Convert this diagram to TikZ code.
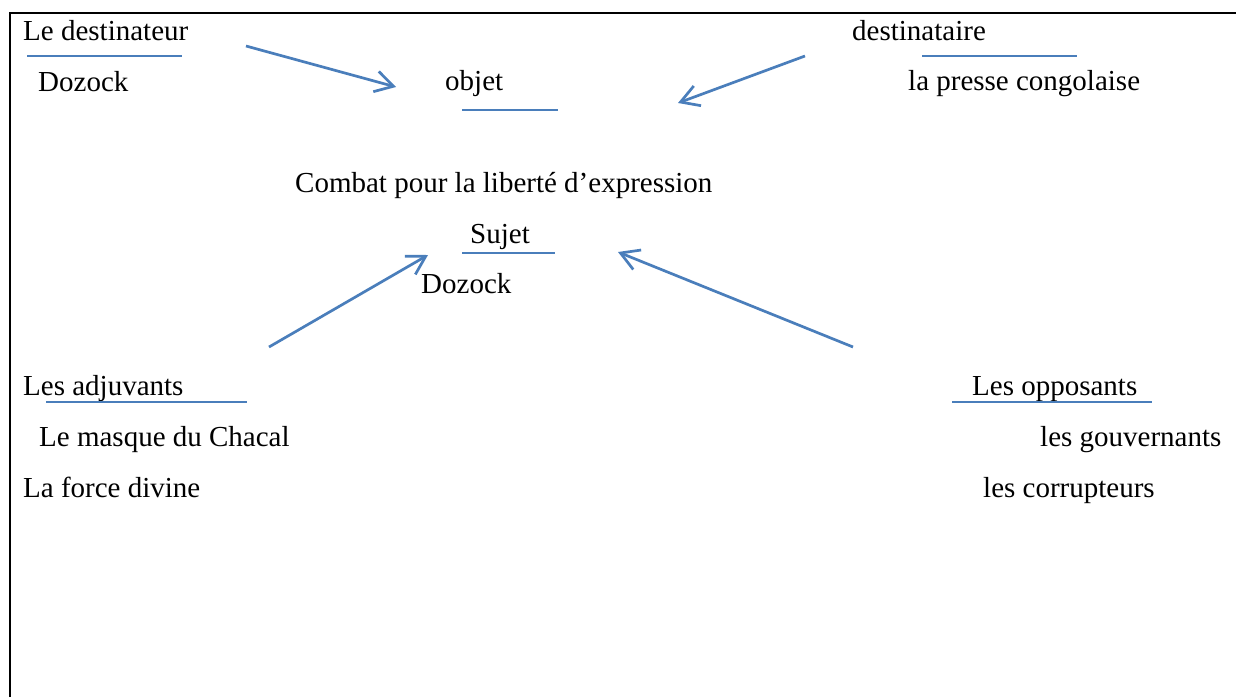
\documentclass[tikz,border=0pt]{standalone}
\usepackage{fontspec}
\setmainfont{Liberation Serif}
\usetikzlibrary{arrows.meta}
\definecolor{wordblue}{RGB}{74,126,187}
\tikzset{
	lbl/.style={anchor=base west,inner sep=0pt,font=\fontsize{29}{34}\selectfont},
	uline/.style={draw=wordblue,line width=2pt},
	fleche/.style={draw=wordblue,line width=2.7pt,-{Straight Barb[length=18pt,width=21pt]}}
}
\begin{document}
\begin{tikzpicture}[x=1pt,y=-1pt]
	\useasboundingbox (0,0) rectangle (1236,697);
	\draw[line width=2.5pt] (10,697) -- (10,13) -- (1236,13);
	% textes
	\node[lbl] (dest) at (23,40){Le destinateur};
	\node[lbl] (destdoz) at (38,91){Dozock};
	\node[lbl] (obj) at (445,90){objet};
	\node[lbl] (destre) at (852,40){destinataire};
	\node[lbl] (presse) at (908,90){la presse congolaise};
	\node[lbl] (combat) at (295,192){Combat pour la liberté d’expression};
	\node[lbl] (suj) at (470,243){Sujet};
	\node[lbl] (sujdoz) at (421,293){Dozock};
	\node[lbl] (adj) at (23,395){Les adjuvants};
	\node[lbl] (masque) at (39,446){Le masque du Chacal};
	\node[lbl] (force) at (23,497){La force divine};
	\node[lbl] (opp) at (972,395){Les opposants};
	\node[lbl] (gouv) at (1040,446){les gouvernants};
	\node[lbl] (corr) at (983,497){les corrupteurs};
	% soulignements
	\foreach\n/\a/\b/\y in {1/27/182/56,2/462/558/110,3/922/1077/56,4/462/555/253,5/46/247/402,6/952/1152/402}{
		\coordinate (s\n a) at (\a,\y);
		\coordinate (s\n b) at (\b,\y);
		\draw[uline] (s\n a) -- (s\n b);
	}
	% fleches
	\coordinate (f1a) at (246,46);
	\coordinate (f1b) at (396,87);
	\coordinate (f2a) at (805,56);
	\coordinate (f2b) at (678,103);
	\coordinate (f3a) at (269,347);
	\coordinate (f3b) at (428,255);
	\coordinate (f4a) at (853,347);
	\coordinate (f4b) at (618,252);
	\foreach\n in {1,2,3,4}{
		\draw[fleche] (f\n a) -- (f\n b);
	}
\end{tikzpicture}
\end{document}
